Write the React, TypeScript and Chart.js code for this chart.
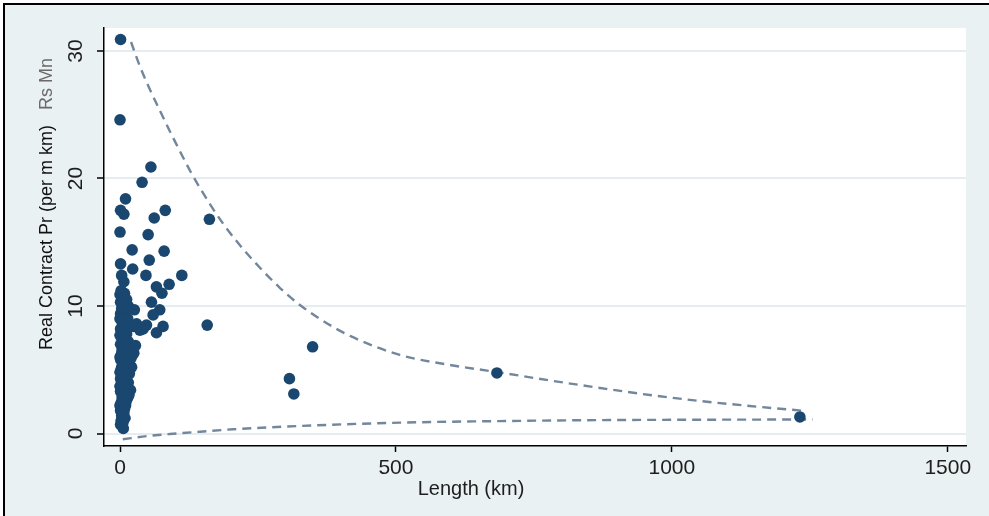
import { useEffect, useRef } from 'react';
import { Chart, registerables } from 'chart.js';

Chart.register(...registerables);

const W = 989;
const H = 516;
const FONT = '"Liberation Sans", Arial, sans-serif';

// Scatter: contract length (km) vs real contract price (Rs Mn per m km)
const lengthKm = [
  1, 0, 56, 40, 10, 1, 7, 82, 62, 162, 0, 51, 22, 80, 53, 1, 23, 3, 47, 112,
  7, 66, 89, 76, 57, 72, 60, 78, 66, 48, 36, 24, 30, 42, 158, 349, 307, 315, 683, 1232,
  2, 8, 4, 12, 1, 7, 15, 3, 10, 26, 1, 6, 14, 3, 9, 17, 1, 5, 12, 3,
  8, 15, 1, 6, 22, 11, 3, 18, 8, 1, 13, 5, 21, 2, 10, 17, 5, 1, 9, 3,
  13, 6, 1, 10, 4, 14, 7, 2, 10, 5, 1, 7, 3, 6, 2, 5, 6,
  0, 5, 11, 0, 8, 13, 0, 10, 4, 15, 0, 7, 17, 3, 12, 0, 7, 15, 0, 8,
  4, 11, 0, 8, 4, 9, 1, 12, 20, 25, 28, 19, 16,
];
const pricePerKm = [
  30.9, 24.6, 20.9, 19.7, 18.4, 17.5, 17.2, 17.5, 16.9, 16.8, 15.8, 15.6, 14.4, 14.3, 13.6, 13.3, 12.9, 12.4, 12.4, 12.4,
  11.9, 11.5, 11.7, 11.0, 10.3, 9.7, 9.3, 8.4, 7.9, 8.5, 8.1, 8.4, 8.6, 8.2, 8.5, 6.8, 4.3, 3.1, 4.75, 1.3,
  11.2, 11.0, 10.7, 10.5, 10.3, 10.1, 10.0, 9.8, 9.6, 9.7, 9.4, 9.2, 9.0, 8.8, 8.6, 8.4, 8.2, 8.0, 7.8, 7.6,
  7.4, 7.2, 7.0, 6.8, 6.7, 6.5, 6.3, 6.2, 6.0, 5.8, 5.6, 5.4, 5.2, 5.0, 4.9, 4.7, 4.5, 4.3, 4.1, 3.9,
  3.7, 3.5, 3.3, 3.1, 2.9, 2.8, 2.6, 2.4, 2.2, 2.0, 1.8, 1.6, 1.4, 1.2, 1.0, 0.8, 0.4,
  10.9, 10.4, 9.9, 9.0, 8.9, 8.2, 7.7, 7.0, 6.6, 6.4, 6.0, 5.7, 5.5, 5.2, 4.6, 4.8, 4.3, 4.0, 3.7, 3.3,
  2.7, 2.5, 2.2, 1.9, 1.5, 1.2, 0.7, 6.0, 5.9, 6.3, 6.9, 3.4, 3.0,
];

// Upper dashed envelope
const upperX = [20, 36, 54, 72.5, 91, 109, 127, 145, 165, 190, 217, 254, 290, 326, 371, 417, 507, 598, 683, 779, 870, 960, 1051, 1141, 1244];
const upperY = [30.7, 28.8, 27.0, 25.3, 23.65, 22.1, 20.6, 19.25, 17.85, 16.27, 14.78, 12.98, 11.41, 10.08, 8.75, 7.65, 6.16, 5.37, 4.82, 4.16, 3.57, 3.02, 2.55, 2.16, 1.76];

// Lower dashed envelope
const lowerX = [5, 50, 90, 145, 205, 326, 507, 700, 870, 1050, 1255];
const lowerY = [-0.45, -0.2, -0.04, 0.14, 0.33, 0.59, 0.85, 0.98, 1.05, 1.08, 1.1];

const xTicks = [0, 500, 1000, 1500];
const yTicks = [0, 10, 20, 30];

const xTitle = 'Length (km)';
const yTitleMain = 'Real Contract Pr (per m km)';
const yTitleUnit = 'Rs Mn';

export default function App() {
  const ref = useRef<HTMLCanvasElement | null>(null);

  useEffect(() => {
    document.body.style.margin = '0';
    const canvas = ref.current;
    if (!canvas) return;

    const bgPlugin = {
      id: 'bg',
      beforeDraw(chart: any) {
        const { ctx, chartArea } = chart;
        ctx.save();
        ctx.fillStyle = '#ffffff';
        ctx.fillRect(0, 0, W, H);
        ctx.fillStyle = '#eaf1f3';
        ctx.fillRect(5, 5, W - 5, H - 5);
        ctx.fillStyle = '#000';
        ctx.fillRect(3, 3, W - 3, 2);
        ctx.fillRect(3, 3, 2, H - 3);
        ctx.fillStyle = '#ffffff';
        ctx.fillRect(chartArea.left, chartArea.top, chartArea.right - chartArea.left, chartArea.bottom - chartArea.top);
        ctx.restore();
      },
    };

    const textPlugin = {
      id: 'texts',
      afterDraw(chart: any) {
        const { ctx } = chart;
        const xs = chart.scales.x;
        const ys = chart.scales.y;
        ctx.save();
        ctx.fillStyle = '#1e1e1e';
        ctx.font = `21px ${FONT}`;
        ctx.textAlign = 'center';
        ctx.textBaseline = 'middle';
        xTicks.forEach((v) => {
          ctx.fillText(String(v), xs.getPixelForValue(v), 468);
        });
        yTicks.forEach((v) => {
          ctx.save();
          ctx.translate(76, ys.getPixelForValue(v));
          ctx.rotate(-Math.PI / 2);
          ctx.fillText(String(v), 0, 0);
          ctx.restore();
        });
        ctx.font = `20px ${FONT}`;
        ctx.fillText(xTitle, 471, 489);
        // y title
        ctx.save();
        ctx.translate(47, 350);
        ctx.rotate(-Math.PI / 2);
        ctx.textAlign = 'left';
        ctx.font = `18px ${FONT}`;
        ctx.fillStyle = '#111';
        ctx.fillText(yTitleMain, 0, 0);
        ctx.fillStyle = '#6a6a6a';
        ctx.fillText(yTitleUnit, 240, 0);
        ctx.restore();
        ctx.restore();
      },
    };

    const dashColor = '#72869c';

    const chart = new Chart(canvas, {
      type: 'scatter',
      data: {
        datasets: [
          {
            label: 'points',
            data: lengthKm.map((x, i) => ({ x, y: pricePerKm[i] })),
            backgroundColor: '#1a476f',
            borderWidth: 0,
            pointRadius: 5.8,
            pointHoverRadius: 5.8,
            showLine: false,
          },
          {
            type: 'line',
            label: 'upper',
            data: upperX.map((x, i) => ({ x, y: upperY[i] })),
            borderColor: dashColor,
            borderWidth: 2.4,
            borderDash: [9, 6],
            pointRadius: 0,
            cubicInterpolationMode: 'monotone',
            fill: false,
          } as any,
          {
            type: 'line',
            label: 'lower',
            data: lowerX.map((x, i) => ({ x, y: lowerY[i] })),
            borderColor: dashColor,
            borderWidth: 2.4,
            borderDash: [9, 6],
            pointRadius: 0,
            cubicInterpolationMode: 'monotone',
            fill: false,
          } as any,
        ],
      },
      options: {
        responsive: false,
        maintainAspectRatio: false,
        animation: false,
        layout: { padding: { top: 28, right: 23, left: 0, bottom: 0 } },
        plugins: { legend: { display: false }, tooltip: { enabled: false } },
        scales: {
          x: {
            type: 'linear',
            min: -29,
            max: 1533,
            afterBuildTicks: (s: any) => {
              s.ticks = xTicks.map((v) => ({ value: v }));
            },
            afterFit: (s: any) => {
              s.height = 70;
            },
            ticks: { display: false },
            grid: {
              drawOnChartArea: false,
              drawTicks: true,
              tickLength: 6,
              tickColor: '#000',
              tickWidth: 1.5,
            },
            border: { display: true, color: '#000', width: 1.5 },
          },
          y: {
            type: 'linear',
            min: -0.98,
            max: 31.8,
            afterBuildTicks: (s: any) => {
              s.ticks = yTicks.map((v) => ({ value: v }));
            },
            afterFit: (s: any) => {
              s.width = 104;
            },
            ticks: { display: false },
            grid: {
              color: '#e6edf0',
              lineWidth: 2,
              drawTicks: true,
              tickLength: 7,
              tickColor: '#000',
              tickWidth: 1.5,
            },
            border: { display: true, color: '#000', width: 1.5 },
          },
        },
      },
      plugins: [bgPlugin, textPlugin],
    });

    return () => chart.destroy();
  }, []);

  return (
    <div style={{ position: 'absolute', left: 0, top: 0, width: W, height: H }}>
      <canvas ref={ref} width={W} height={H} style={{ display: 'block' }} />
    </div>
  );
}
